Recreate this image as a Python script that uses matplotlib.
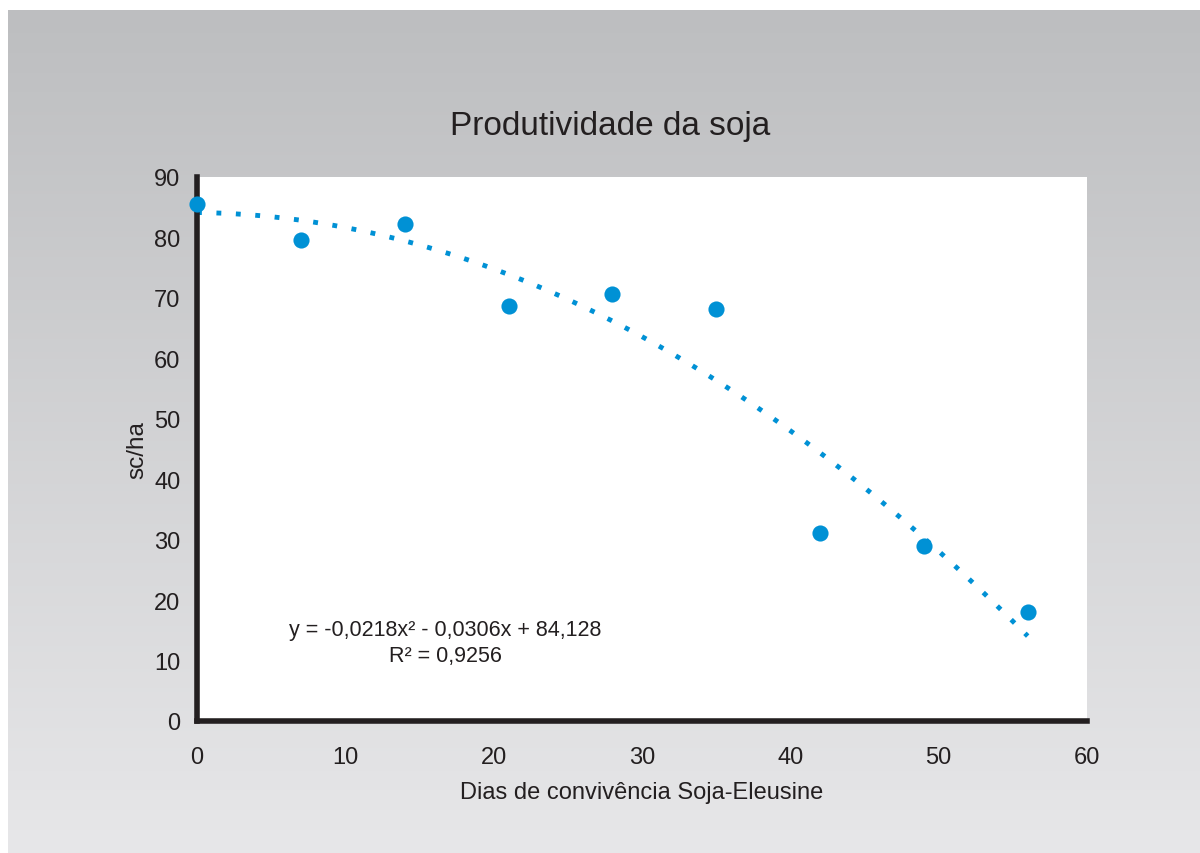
import numpy as np
import matplotlib.pyplot as plt

# dados
dias = [0, 7, 14, 21, 28, 35, 42, 49, 56]
sc_ha = [85.6, 79.5, 82.3, 68.6, 70.6, 68.1, 31.1, 28.9, 18.0]

# coeficientes da linha de tendencia (polinomial grau 2)
coef = [-0.0218, -0.0306, 84.128]
eq_txt = "y = -0,0218x² - 0,0306x + 84,128\nR² = 0,9256"

xticks = [0, 10, 20, 30, 40, 50, 60]
yticks = [0, 10, 20, 30, 40, 50, 60, 70, 80, 90]

azul = '#0091d5'
escuro = '#231f20'
plt.rcParams['font.family'] = ['Liberation Sans', 'DejaVu Sans']

fig = plt.figure(figsize=(12, 8.54), dpi=100, facecolor='white')

# fundo cinza em degrade
bg = fig.add_axes([8 / 1200, 0, 1 - 8 / 1200, 1 - 11 / 854])
grad = np.linspace(0, 1, 256).reshape(-1, 1)
c_top = np.array([189, 190, 192]) / 255
c_bot = np.array([231, 231, 233]) / 255
img = c_top[None, None, :] * (1 - grad[:, :, None]) + c_bot[None, None, :] * grad[:, :, None]
bg.imshow(img, aspect='auto', extent=[0, 1, 0, 1])
bg.set_axis_off()

ax = fig.add_axes([197 / 1200, 1 - 722 / 854, (1087 - 197) / 1200, (722 - 178) / 854])
ax.set_facecolor('white')

xs = np.linspace(0, 56, 200)
ax.plot(xs, np.polyval(coef, xs), color=azul, lw=3.5, linestyle=(0, (1, 3)),
        dash_capstyle='butt', zorder=2, clip_on=False)
ax.scatter(dias, sc_ha, s=135, color=azul, zorder=3, clip_on=False, linewidths=0)

ax.set_xlim(0, 60)
ax.set_ylim(0, 90)
ax.set_xticks(xticks)
ax.set_yticks(yticks)
ax.tick_params(length=0, labelsize=17, colors='#231f20', pad=12)
ax.tick_params(axis='x', pad=18)
for s in ['top', 'right']:
    ax.spines[s].set_visible(False)
for s in ['left', 'bottom']:
    ax.spines[s].set_linewidth(4)
    ax.spines[s].set_color(escuro)

ax.set_xlabel('Dias de convivência Soja-Eleusine', fontsize=17, color=escuro, labelpad=9)
ax.set_ylabel('sc/ha', fontsize=17.5, color=escuro, labelpad=4)
ax.text(610 / 1200, 1 - 127 / 854, 'Produtividade da soja', transform=fig.transFigure,
        fontsize=24, color=escuro, ha='center', va='center')

ax.text(16.75, 13.0, eq_txt, fontsize=15.5, color=escuro, ha='center', va='center',
        linespacing=1.3)

plt.savefig('out.png', dpi=100, facecolor='white')
